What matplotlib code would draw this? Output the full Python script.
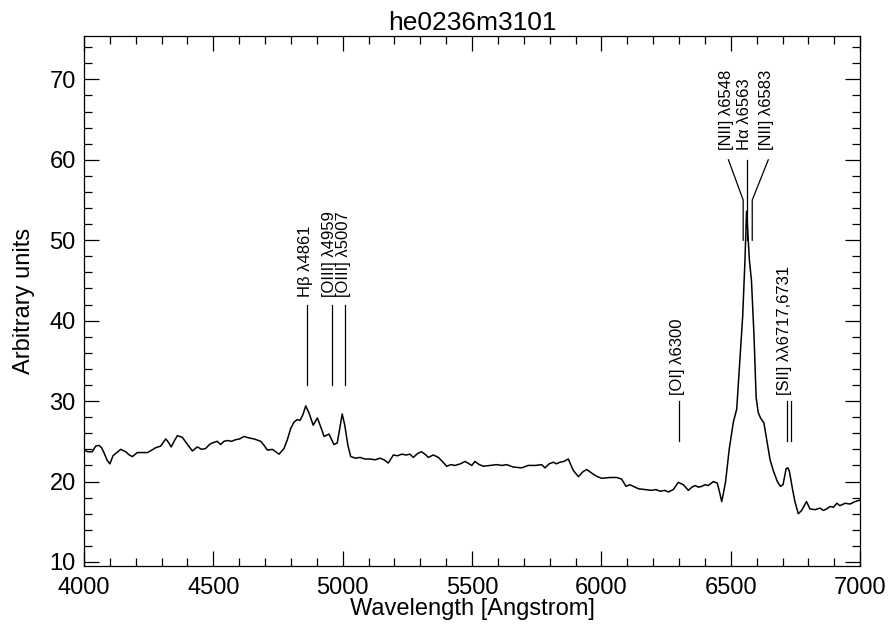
import numpy as np
import matplotlib
matplotlib.use("Agg")
import matplotlib.pyplot as plt
from matplotlib.ticker import MultipleLocator

plt.rcParams["font.family"] = ["Liberation Sans", "DejaVu Sans"]

# ── spectrum ──────────────────────────────────────────────────
wave = [4000, 4015, 4032, 4045, 4058, 4068, 4077, 4090, 4100, 4112, 4123, 4142,
        4161, 4175, 4187, 4206, 4225, 4245, 4262, 4277, 4296, 4316, 4326, 4337,
        4350, 4361, 4380, 4400, 4419, 4438, 4455, 4470, 4485, 4496, 4515, 4528,
        4541, 4554, 4570, 4586, 4602, 4618, 4640, 4657, 4683, 4696, 4709, 4728,
        4741, 4754, 4773, 4786, 4799, 4812, 4824, 4835, 4846, 4857, 4870, 4886,
        4902, 4915, 4928, 4947, 4966, 4979, 4988, 4998, 5008, 5020, 5031, 5050,
        5067, 5085, 5106, 5125, 5144, 5160, 5176, 5196, 5212, 5228, 5245, 5260,
        5273, 5290, 5305, 5318, 5331, 5350, 5370, 5385, 5402, 5418, 5434, 5455,
        5473, 5499, 5511, 5528, 5544, 5570, 5595, 5615, 5634, 5659, 5692, 5717,
        5745, 5769, 5782, 5798, 5814, 5826, 5840, 5855, 5872, 5891, 5911, 5928,
        5943, 5969, 5985, 6001, 6033, 6059, 6078, 6095, 6110, 6123, 6143, 6169,
        6194, 6210, 6227, 6245, 6259, 6278, 6297, 6317, 6336, 6350, 6362, 6375,
        6388, 6400, 6413, 6433, 6448, 6458, 6465, 6472, 6480, 6494, 6510, 6523,
        6537, 6546, 6555, 6561, 6566, 6572, 6580, 6590, 6598, 6606, 6615, 6628,
        6640, 6652, 6665, 6680, 6692, 6702, 6714, 6721, 6727, 6739, 6748, 6761,
        6774, 6784, 6793, 6806, 6826, 6845, 6858, 6871, 6884, 6897, 6910, 6922,
        6942, 6961, 6980, 7000]
flux = [23.9, 23.7, 23.7, 24.4, 24.5, 24.2, 23.6, 22.6, 22.2, 23.2, 23.5, 24.0,
        23.7, 23.3, 23.1, 23.6, 23.6, 23.6, 23.9, 24.2, 24.4, 25.3, 24.9, 24.3,
        25.1, 25.7, 25.5, 24.6, 23.8, 24.3, 24.0, 24.1, 24.6, 24.8, 25.0, 24.6,
        25.0, 25.1, 25.0, 25.2, 25.3, 25.6, 25.4, 25.3, 25.0, 24.5, 23.9, 24.0,
        23.7, 23.4, 24.1, 25.2, 26.6, 27.4, 27.7, 27.6, 28.3, 29.4, 28.5, 27.0,
        27.9, 26.8, 25.6, 25.9, 24.6, 24.8, 26.5, 28.4, 27.0, 24.5, 23.1, 22.9,
        23.0, 22.8, 22.8, 22.7, 22.9, 22.7, 22.3, 23.3, 23.2, 23.4, 23.3, 23.4,
        23.0, 23.5, 23.7, 23.4, 23.0, 23.3, 23.0, 22.5, 21.9, 22.1, 22.0, 22.2,
        22.5, 22.0, 22.5, 22.1, 21.9, 22.0, 22.1, 22.0, 22.1, 21.8, 21.7, 22.0,
        22.0, 22.1, 21.7, 22.2, 22.4, 22.2, 22.4, 22.5, 22.8, 21.4, 20.6, 21.2,
        21.5, 20.9, 20.6, 20.4, 20.5, 20.5, 20.3, 19.4, 19.6, 19.4, 19.1, 19.0,
        18.9, 19.0, 18.8, 18.9, 18.7, 19.0, 19.9, 19.6, 18.9, 19.3, 19.5, 19.3,
        19.4, 19.6, 19.5, 20.0, 19.8, 18.5, 17.5, 18.6, 20.0, 24.0, 27.4, 29.0,
        36.0, 40.5, 47.6, 53.6, 51.0, 47.5, 45.0, 38.0, 30.5, 28.6, 27.9, 27.3,
        25.0, 22.7, 21.3, 20.0, 19.4, 19.6, 21.6, 21.7, 21.2, 19.0, 17.5, 16.0,
        16.4, 17.0, 17.5, 16.6, 16.5, 16.7, 16.4, 16.6, 16.9, 16.8, 17.3, 17.0,
        17.3, 17.2, 17.5, 17.7]

# ── emission-line markers ─────────────────────────────────────
mark_wave  = [4861, 4959, 5007, 6300, 6717, 6731]
mark_low   = [32, 32, 32, 25, 25, 25]
mark_high  = [42, 42, 42, 30, 30, 30]

lab_text  = ["Hβ λ4861", "[OIII] λ4959", "[OIII] λ5007", "[OI] λ6300",
             "[SII] λλ6717,6731"]
lab_wave  = [4856, 4950, 5003, 6294, 6706]
lab_y     = [43.0, 43.0, 43.0, 30.8, 30.8]

# Halpha / [NII] complex: vertical stub then slanted leader to the label
ha_wave     = [6548, 6563, 6583]
ha_lab_wave = [6491, 6563, 6645]
ha_text     = ["[NII] λ6548", "Hα λ6563", "[NII] λ6583"]

fig = plt.figure(figsize=(8.88, 6.34), dpi=100)
ax = fig.add_axes([0.0946, 0.1073, 0.874, 0.836])

ax.plot(wave, flux, color="black", lw=1.1)

for w, lo, hi in zip(mark_wave, mark_low, mark_high):
    ax.plot([w, w], [lo, hi], color="black", lw=0.9)
for t, w, y in zip(lab_text, lab_wave, lab_y):
    ax.text(w, y, t, rotation=90, ha="center", va="bottom", fontsize=12)

for w, lw_, t in zip(ha_wave, ha_lab_wave, ha_text):
    ax.plot([w, w, lw_], [50, 55, 60], color="black", lw=0.9)
    ax.text(lw_ - 8, 61.2, t, rotation=90, ha="center", va="bottom", fontsize=12)

ax.set_xlim(4000, 7000)
ax.set_ylim(9.5, 75.4)
ax.xaxis.set_major_locator(MultipleLocator(500))
ax.xaxis.set_minor_locator(MultipleLocator(100))
ax.yaxis.set_major_locator(MultipleLocator(10))
ax.yaxis.set_minor_locator(MultipleLocator(2))
ax.tick_params(which="both", direction="in", top=True, right=True, labelsize=17, width=0.9)
ax.tick_params(which="major", length=11)
ax.tick_params(which="minor", length=5.5)
ax.tick_params(axis="x", pad=8)
ax.tick_params(axis="y", pad=6)
for s in ax.spines.values():
    s.set_linewidth(0.9)

ax.set_xlabel("Wavelength [Angstrom]", fontsize=17, labelpad=-1)
ax.set_ylabel("Arbitrary units", fontsize=17, labelpad=10)
ax.set_title("he0236m3101", fontsize=19, pad=4)

fig.savefig("out.png", dpi=100)
